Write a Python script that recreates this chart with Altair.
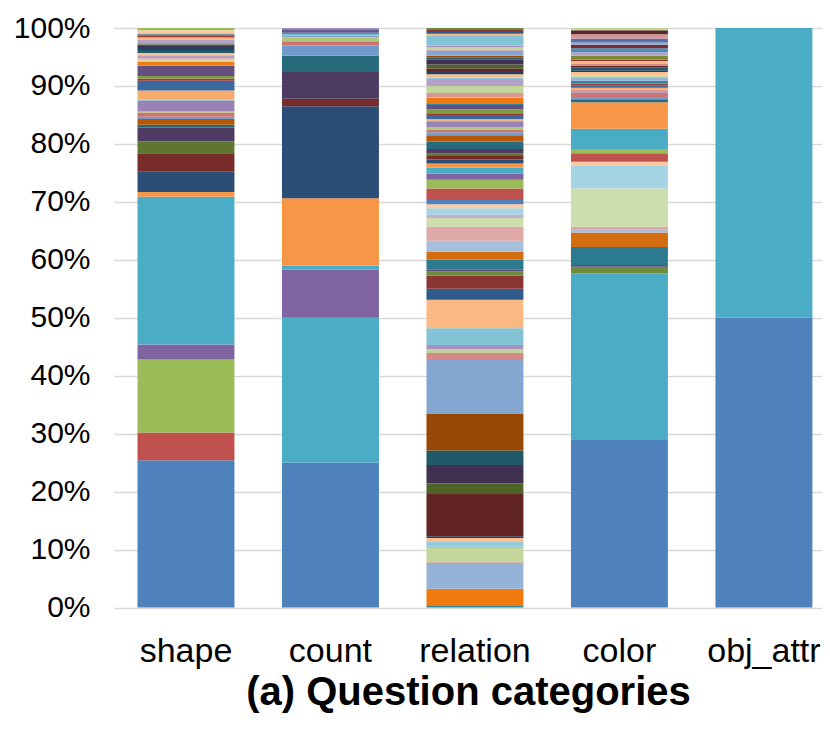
import altair as alt
import pandas as pd

categories = ["shape", "count", "relation", "color", "obj_attr"]

shape_vals = [25.4, 4.8, 12.6, 2.6, 25.5, 0.8, 3.5, 3.2, 2.0, 2.4, 0.5, 1.0, 0.4, 0.7, 0.2, 1.9,
              0.1, 1.6, 1.7, 0.4, 0.4, 1.8, 0.7, 0.2, 0.3, 0.3, 0.3, 0.3, 0.1, 0.5, 0.5, 0.2,
              0.3, 0.2, 0.6, 0.2, 0.2, 0.3, 0.2, 0.2, 0.5, 0.4]
shape_cols = ["#4F81BD", "#C0504D", "#9BBB59", "#8064A2", "#4BACC6", "#F79646", "#2C4D75", "#772C2A",
              "#5F7530", "#4D3B62", "#276A7C", "#B65708", "#729ACA", "#CD7371", "#AFC97A", "#9983B5",
              "#6FBDD1", "#F9AB6B", "#3A679C", "#9E3B39", "#7E9D40", "#654E80", "#F07C16", "#FAC090",
              "#C3D69B", "#D99694", "#B3A2C7", "#FAC090", "#93CDDD", "#215968", "#254061", "#403152",
              "#4F6228", "#84A7D1", "#B3A2C7", "#F9AB6B", "#F79646", "#9E3B39", "#276A7C", "#DFA7A6",
              "#FBCAA2", "#9BBB59"]

count_vals = [25.0, 25.0, 8.3, 0.7, 11.6, 15.9, 1.3, 4.6, 2.8, 1.8, 0.7, 0.7, 0.3, 0.3, 0.2, 0.6, 0.2]
count_cols = ["#4F81BD", "#4BACC6", "#8064A2", "#4BACC6", "#F79646", "#2C4D75", "#772C2A", "#4D3B62",
              "#276A7C", "#729ACA", "#CD7371", "#AFC97A", "#8EA0D0", "#6FBDD1", "#3A679C", "#5F5A8F",
              "#9F8FB8"]

relation_vals = [0.4, 2.85, 4.25, 0.3, 2.5, 0.2, 0.8, 0.7, 0.3, 7.3, 1.8, 3.2, 2.5, 6.3, 9.5, 1.0,
                 0.7, 0.7, 2.9, 4.9, 1.9, 2.3, 0.7, 0.3, 1.7, 1.4, 1.9, 2.4, 1.5, 0.6, 1.1, 0.7,
                 0.7, 2.0, 1.5, 1.1, 1.0, 0.7, 0.7, 0.6, 0.5, 0.7, 1.3, 1.1, 0.5, 0.5, 0.4, 0.9,
                 0.2, 0.3, 0.7, 0.3, 0.7, 0.7, 0.3, 0.9, 0.1, 0.8, 1.2, 1.2, 0.2, 0.6, 0.6, 0.4,
                 0.7, 0.8, 0.4, 0.3, 0.9, 0.2, 0.4, 0.3, 1.6, 0.4, 0.3, 0.5, 0.2]
relation_cols = ["#31859C", "#F07A10", "#95B3D7", "#D99694", "#C3D69B", "#B3A2C7", "#93CDDD", "#FAC090",
                 "#254061", "#632523", "#4F6228", "#403152", "#215968", "#974806", "#84A7D1", "#D48886",
                 "#BFD39A", "#A992C2", "#82C4D6", "#F9B884", "#2E5A8C", "#8B3535", "#6E8B3D", "#5B4A7A",
                 "#2C7A8E", "#D46C10", "#A7C0DE", "#DFA7A6", "#CDDDAC", "#C0B0D4", "#A5D5E2", "#FBCAA2",
                 "#4F81BD", "#C0504D", "#9BBB59", "#8064A2", "#4BACC6", "#F79646", "#2C4D75", "#772C2A",
                 "#5F7530", "#4D3B62", "#276A7C", "#B65708", "#729ACA", "#CD7371", "#AFC97A", "#9983B5",
                 "#6FBDD1", "#F9AB6B", "#3A679C", "#9E3B39", "#7E9D40", "#654E80", "#31859C", "#F07A10",
                 "#95B3D7", "#D99694", "#C3D69B", "#B3A2C7", "#93CDDD", "#FAC090", "#254061", "#632523",
                 "#4F6228", "#403152", "#215968", "#974806", "#84A7D1", "#D48886", "#BFD39A", "#A992C2",
                 "#82C4D6", "#F9B884", "#2E5A8C", "#8B3535", "#6E8B3D"]

color_vals = [28.9, 28.8, 1.1, 0.3, 3.1, 2.5, 0.6, 0.4, 6.6, 3.9, 0.7, 1.5, 0.7, 3.5, 4.6,
              0.5, 0.4, 0.5, 0.3, 0.5, 0.3, 0.4, 0.3, 0.5, 0.6, 0.3, 0.6, 0.3, 0.5, 0.3, 0.3,
              0.5, 0.2, 0.7, 0.6, 0.7, 0.6, 0.4, 0.7, 0.7, 0.7, 0.4]
color_cols = ["#4F81BD", "#4BACC6", "#6E8B3D", "#5B4A7A", "#2C7A8E", "#D46C10", "#A7C0DE", "#DFA7A6",
              "#CDDDAC", "#A5D5E2", "#FBCAA2", "#C0504D", "#9BBB59", "#4BACC6", "#F79646",
              "#276A7C", "#729ACA", "#CD7371", "#9983B5", "#D99694", "#F9AB6B", "#3A679C", "#9E3B39",
              "#31859C", "#95B3D7", "#C3D69B", "#FAC090", "#254061", "#215968", "#632523", "#D48886",
              "#F9B884", "#8B3535", "#7E8A30", "#B3A2C7", "#4A8DC0", "#772C2A", "#8EA9DB", "#5A6FA8",
              "#D99694", "#5A2A2A", "#C3D69B"]

obj_attr_vals = [50.0, 50.0]
obj_attr_cols = ["#4F81BD", "#4BACC6"]

series = {
    "shape": (shape_vals, shape_cols),
    "count": (count_vals, count_cols),
    "relation": (relation_vals, relation_cols),
    "color": (color_vals, color_cols),
    "obj_attr": (obj_attr_vals, obj_attr_cols),
}

rows = []
for cat in categories:
    vals, cols = series[cat]
    for i, (v, c) in enumerate(zip(vals, cols)):
        rows.append({"category": cat, "idx": i, "value": v / 100.0, "col": c})
df = pd.DataFrame(rows)

FONT = "Liberation Sans"

chart = alt.Chart(df).mark_bar().encode(
    x=alt.X("category:N", sort=categories,
            scale=alt.Scale(paddingInner=0.329, paddingOuter=0.1145, align=0.71),
            axis=alt.Axis(title="(a) Question categories", labelAngle=0, labelFontSize=34,
                          labelFont=FONT, labelColor="#000000", labelPadding=27,
                          titleFont=FONT, titleFontSize=40, titleFontWeight="bold",
                          titleColor="#000000", titlePadding=4, ticks=False, domain=False)),
    y=alt.Y("value:Q", stack="zero",
            scale=alt.Scale(domain=[0, 1], nice=False),
            axis=alt.Axis(title=None, values=[0, 0.1, 0.2, 0.3, 0.4, 0.5, 0.6, 0.7, 0.8, 0.9, 1.0],
                          format=".0%", labelFontSize=30, labelFont=FONT, labelColor="#000000",
                          labelPadding=24, ticks=False, domain=False,
                          grid=True, gridColor="#D9D9D9", gridWidth=1.6)),
    color=alt.Color("col:N", scale=None, legend=None),
    order=alt.Order("idx:Q", sort="ascending"),
).properties(
    width=708, height=579.5,
    padding={"left": 106, "top": 20, "right": 0, "bottom": 118},
    autosize="none",
).configure_view(stroke=None)

chart.save("out.html", embed_options={"renderer": "svg", "actions": False})
